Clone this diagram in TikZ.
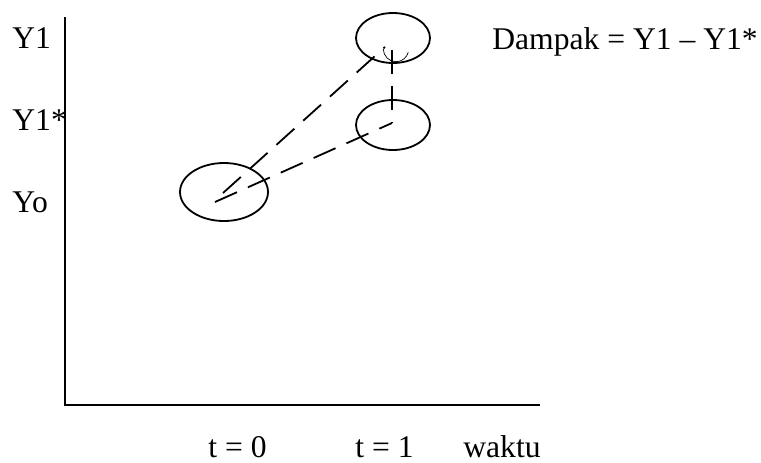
\documentclass[tikz,border=0pt]{standalone}
\usepackage{fontspec}
\setmainfont{Liberation Serif}
\usetikzlibrary{shapes.geometric}
\begin{document}
\begin{tikzpicture}[x=0.5pt,y=-0.5pt,
  axis/.style={line width=1pt},
  ring/.style={ellipse,draw,line width=0.9pt,inner sep=0pt},
  dashline/.style={line width=0.9pt,dash pattern=on 12pt off 6pt},
  lbl/.style={anchor=base west,inner sep=0pt,font=\fontsize{15.8}{19}\selectfont}]
\useasboundingbox (0,0) rectangle (761,462);
% axes
\coordinate (ytop) at (65,17);
\coordinate (origin) at (65,405);
\coordinate (xend) at (540,405);
\draw[axis] (ytop) -- (origin) -- (xend);
% ellipses
\node[ring,minimum width=37pt,minimum height=25pt] (e1) at (393,38) {};
\node[ring,minimum width=37pt,minimum height=25pt] (e2) at (393,125) {};
\node[ring,minimum width=44pt,minimum height=29pt] (e0) at (224,192) {};
% inner points
\coordinate (p0a) at (223,193);
\coordinate (p0b) at (215,202);
\coordinate (p1) at (385,47);
\coordinate (p1v) at (392,50);
\coordinate (p2) at (392,123);
\draw[dashline] (p0a) -- (p1);
\draw[dashline] (p0b) -- (p2);
\draw[dashline] (p1v) -- (p2);
% small arc
\draw[line width=0.35pt] (383.3,49) arc[start angle=180,end angle=15,radius=12.7];
% labels
\node[lbl] (ly1) at (12,48) {Y1};
\node[lbl] (ly1s) at (12,130) {Y1*};
\node[lbl] (lyo) at (12,212) {Yo};
\node[lbl] (ld) at (492,49) {Dampak = Y1 -- Y1*};
\node[lbl] (lt0) at (208,457) {t = 0};
\node[lbl] (lt1) at (355,457) {t = 1};
\node[lbl] (lw) at (463,457) {waktu};
\end{tikzpicture}
\end{document}
